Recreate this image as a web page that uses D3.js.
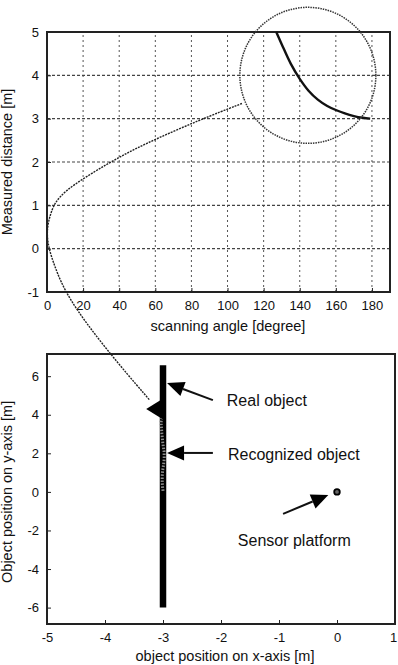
<!DOCTYPE html>
<html>
<head>
<meta charset="utf-8">
<script src="https://cdn.jsdelivr.net/npm/d3@7"></script>
<style>
  body { margin: 0; background: #fff; }
  text { font-family: "Liberation Sans", Arial, sans-serif; fill: #111; }
</style>
</head>
<body>
<div id="vis"></div>
<script>
// basic dimensions
var width = 398;
var height = 665;

// DATA
// top plot: measured distance against scanning angle
var angles = [127, 130, 135, 140, 145, 150, 155, 160, 165, 170, 175, 179];
var distances = [5.0, 4.72, 4.27, 3.92, 3.64, 3.44, 3.3, 3.2, 3.12, 3.06, 3.02, 3.0];
var angleTicks = [0, 20, 40, 60, 80, 100, 120, 140, 160, 180];
var distTicks = [-1, 0, 1, 2, 3, 4, 5];

// zoom circle centre (angle, distance) and connector curve (angle, distance)
var zoomCentre = [144.5, 4.0];
var connAngles = [108, 85, 53, 35, 7, 2, -0.4, 1, 4, 11, 33];
var connDists = [3.35, 2.98, 2.4, 2.0, 1.29, 0.85, 0.4, 0, -0.38, -1.12, -2.34];
// connector end, in bottom plot units
var connEnd = [-3.23, 4.76];

// bottom plot: real object (wall) and sensor platform
var wallX = -3;
var wallY = [-6, 6.57];
var sensor = [0, 0];
var xPosTicks = [-5, -4, -3, -2, -1, 0, 1];
var yPosTicks = [-6, -4, -2, 0, 2, 4, 6];

// annotation arrows (bottom plot units)
var labels = ["Real object", "Recognized object", "Sensor platform"];
var labelX = [-1.9, -1.88, -1.71];
var labelY = [4.45, 1.66, -2.79];
var tailX = [-2.14, -2.14, -0.93];
var tailY = [4.76, 2.02, -1.14];
var tipX = [-2.93, -2.93, -0.15];
var tipY = [5.64, 2.02, -0.16];

// SCALES
var xTop = d3.scaleLinear().domain([0, 190]).range([47, 390]);
var yTop = d3.scaleLinear().domain([-1, 5]).range([292, 32]);
var xBot = d3.scaleLinear().domain([-5, 1]).range([47, 395]);
var yBot = d3.scaleLinear().domain([-6.85, 7.15]).range([624, 354]);

// plain integer labels with a hyphen minus, as in the original
var fmt = function(d) { return String(d); };

var svg = d3.select("#vis")
    .append("svg")
    .attr("width", width)
    .attr("height", height);

// ---------- top plot ----------
var topG = svg.append("g");

// grid
topG.append("g")
    .selectAll("line")
    .data(angleTicks.slice(1))
    .enter()
    .append("line")
    .attr("x1", function(d) { return xTop(d); })
    .attr("x2", function(d) { return xTop(d); })
    .attr("y1", yTop(-1))
    .attr("y2", yTop(5))
    .attr("stroke", "#555")
    .attr("stroke-width", 1)
    .attr("stroke-dasharray", "2,3");

topG.append("g")
    .selectAll("line")
    .data(distTicks.slice(1, -1))
    .enter()
    .append("line")
    .attr("x1", xTop(0))
    .attr("x2", xTop(190))
    .attr("y1", function(d) { return yTop(d); })
    .attr("y2", function(d) { return yTop(d); })
    .attr("stroke", "#444")
    .attr("stroke-width", 1.2)
    .attr("stroke-dasharray", "3,2");

// axes
topG.append("g")
    .attr("transform", "translate(0," + yTop(-1) + ")")
    .call(d3.axisBottom(xTop).tickValues(angleTicks).tickFormat(fmt).tickSize(-4).tickPadding(9))
    .call(styleAxis);

topG.append("g")
    .attr("transform", "translate(" + xTop(0) + ",0)")
    .call(d3.axisLeft(yTop).tickValues(distTicks).tickFormat(fmt).tickSize(-4).tickPadding(8))
    .call(styleAxis);

// box
topG.append("rect")
    .attr("x", xTop(0))
    .attr("y", yTop(5))
    .attr("width", xTop(190) - xTop(0))
    .attr("height", yTop(-1) - yTop(5))
    .attr("fill", "none")
    .attr("stroke", "#222")
    .attr("stroke-width", 2);

// measured curve
var lineGen = d3.line()
    .curve(d3.curveCatmullRom)
    .x(function(d) { return xTop(d[0]); })
    .y(function(d) { return yTop(d[1]); });

topG.append("path")
    .attr("d", lineGen(d3.zip(angles, distances)))
    .attr("fill", "none")
    .attr("stroke", "#111")
    .attr("stroke-width", 2.4);

// zoom circle
topG.append("circle")
    .attr("cx", xTop(zoomCentre[0]))
    .attr("cy", yTop(zoomCentre[1]))
    .attr("r", 68)
    .attr("fill", "none")
    .attr("stroke", "#333")
    .attr("stroke-width", 1.5)
    .attr("stroke-dasharray", "1.5,1");

topG.append("text")
    .attr("transform", "translate(12," + yTop(2) + ") rotate(-90)")
    .attr("text-anchor", "middle")
    .style("font-size", "14.5px")
    .text("Measured distance [m]");

topG.append("text")
    .attr("x", 228)
    .attr("y", 331)
    .attr("text-anchor", "middle")
    .style("font-size", "14.5px")
    .text("scanning angle [degree]");

// ---------- bottom plot ----------
var botG = svg.append("g");

var xAxisBot = botG.append("g")
    .attr("transform", "translate(0," + yBot(-6.85) + ")")
    .call(d3.axisBottom(xBot).tickValues(xPosTicks).tickFormat(fmt).tickSize(-4).tickPadding(9))
    .call(styleAxis);

// last label sits on the page edge, nudge it in
xAxisBot.selectAll(".tick text")
    .filter(function(d) { return d === 1; })
    .attr("dx", -2);

botG.append("g")
    .attr("transform", "translate(" + xBot(-5) + ",0)")
    .call(d3.axisLeft(yBot).tickValues(yPosTicks).tickFormat(fmt).tickSize(-4).tickPadding(8))
    .call(styleAxis);

botG.append("rect")
    .attr("x", xBot(-5))
    .attr("y", yBot(7.15))
    .attr("width", xBot(1) - xBot(-5))
    .attr("height", yBot(-6.85) - yBot(7.15))
    .attr("fill", "none")
    .attr("stroke", "#222")
    .attr("stroke-width", 2);

// real object
botG.append("line")
    .attr("x1", xBot(wallX))
    .attr("x2", xBot(wallX))
    .attr("y1", yBot(wallY[0]))
    .attr("y2", yBot(wallY[1]))
    .attr("stroke", "#000")
    .attr("stroke-width", 6.5);

// recognized object: scan points converted to x/y
var recog = d3.zip(angles, distances).map(function(d) {
    var a = d[0] * Math.PI / 180;
    return [d[1] * Math.cos(a), d[1] * Math.sin(a)];
});

botG.append("path")
    .attr("d", d3.line()
        .x(function(d) { return xBot(d[0]); })
        .y(function(d) { return yBot(d[1]); })(recog))
    .attr("fill", "none")
    .attr("stroke", "#8c8c8c")
    .attr("stroke-width", 3)
    .attr("stroke-dasharray", "1.5,1.5");

// sensor platform
botG.append("circle")
    .attr("cx", xBot(sensor[0]))
    .attr("cy", yBot(sensor[1]))
    .attr("r", 2.8)
    .attr("fill", "#666")
    .attr("stroke", "#000")
    .attr("stroke-width", 1.8);

// annotation arrows
labels.forEach(function(l, i) {
    drawArrow(botG, xBot(tailX[i]), yBot(tailY[i]), xBot(tipX[i]), yBot(tipY[i]), 17, 7.5);
    botG.append("text")
        .attr("x", xBot(labelX[i]))
        .attr("y", yBot(labelY[i]))
        .style("font-size", "16px")
        .text(l);
});

botG.append("text")
    .attr("transform", "translate(12," + yBot(0) + ") rotate(-90)")
    .attr("text-anchor", "middle")
    .style("font-size", "14.5px")
    .text("Object position on y-axis [m]");

botG.append("text")
    .attr("x", 225)
    .attr("y", 661)
    .attr("text-anchor", "middle")
    .style("font-size", "14.5px")
    .text("object position on x-axis [m]");

// connector from zoom circle to recognized object
var connPts = d3.zip(connAngles, connDists).map(function(d) {
    return [xTop(d[0]), yTop(d[1])];
});
connPts.push([xBot(connEnd[0]), yBot(connEnd[1])]);

svg.append("path")
    .attr("d", d3.line().curve(d3.curveBasis)(connPts))
    .attr("fill", "none")
    .attr("stroke", "#222")
    .attr("stroke-width", 1.4)
    .attr("stroke-dasharray", "2,1");

// connector arrowhead, pointing away from the wall
var headBase = xBot(wallX) + 1;
svg.append("path")
    .attr("d", "M" + xBot(-3.29) + "," + yBot(4.3) +
        "L" + headBase + "," + (yBot(4.3) - 11) +
        "L" + headBase + "," + (yBot(4.3) + 11) + "Z")
    .attr("fill", "#000");

// tool functions
function styleAxis(g) {
    g.select(".domain").remove();
    g.selectAll(".tick line").attr("stroke", "#222");
    g.selectAll(".tick text")
        .style("font-size", "13px")
        .style("font-family", "'Liberation Sans', Arial, sans-serif")
        .attr("fill", "#111");
}

function drawArrow(g, x1, y1, x2, y2, len, half) {
    var dx = x2 - x1, dy = y2 - y1;
    var l = Math.sqrt(dx * dx + dy * dy);
    var ux = dx / l, uy = dy / l;
    var bx = x2 - ux * len, by = y2 - uy * len;
    g.append("line")
        .attr("x1", x1).attr("y1", y1)
        .attr("x2", bx).attr("y2", by)
        .attr("stroke", "#111")
        .attr("stroke-width", 2);
    g.append("path")
        .attr("d", "M" + x2 + "," + y2 +
            "L" + (bx - uy * half) + "," + (by + ux * half) +
            "L" + (bx + uy * half) + "," + (by - ux * half) + "Z")
        .attr("fill", "#000");
}
</script>
</body>
</html>
